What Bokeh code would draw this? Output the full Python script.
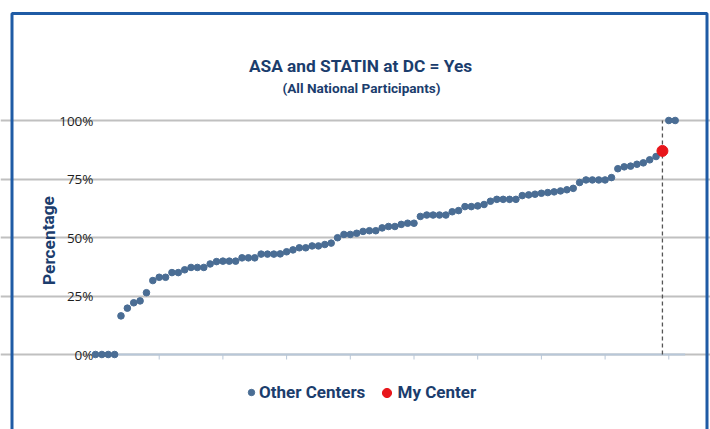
from bokeh.plotting import figure
from bokeh.models import (Label, BoxAnnotation, Legend, LegendItem, Grid,
                          FixedTicker, Range1d, ColumnDataSource)
from bokeh.core.properties import value
from bokeh.embed import file_html
from bokeh.resources import INLINE

# ---- data ----
center_pct = [0, 0, 0, 0, 16.5, 19.8, 22.1, 22.9, 26.4, 31.6,
              33.0, 33.0, 35.0, 35.0, 36.2, 37.2, 37.2, 37.2, 38.7, 39.7,
              39.9, 39.9, 39.9, 41.3, 41.3, 41.3, 42.9, 42.9, 42.9, 43.0,
              43.9, 44.7, 45.6, 45.6, 46.4, 46.4, 47.0, 47.6, 49.9, 51.3,
              51.3, 51.8, 52.6, 52.9, 52.9, 54.1, 54.7, 54.7, 55.6, 56.1,
              56.1, 59.0, 59.6, 59.6, 59.6, 59.6, 61.0, 61.5, 63.2, 63.2,
              63.5, 64.1, 65.5, 66.3, 66.3, 66.3, 66.3, 67.9, 68.2, 68.5,
              68.9, 69.2, 69.5, 69.9, 70.4, 71.0, 73.5, 74.6, 74.6, 74.6,
              74.6, 75.6, 79.4, 80.2, 80.5, 81.3, 81.9, 83.2, 84.6, 87.0,
              100.0, 100.0]
my_center_index = 89
y_ticks = [0, 25, 50, 75, 100]
y_tick_labels = ["0%", "25%", "50%", "75%", "100%"]
x_ticks = [10, 20, 30, 40, 50, 60, 70, 80, 90]

title_text = "ASA and STATIN at DC = Yes"
subtitle_text = "(All National Participants)"
y_label_text = "Percentage"
series_names = ["Other Centers", "My Center"]

# ---- styling / layout ----
W, H = 710, 429
NAVY = "#1b3d6d"
DOT = "#4a6d94"
RED = "#e8161b"
FRAME = "#1f5ba5"
AXIS = "#b8c7d8"
HEAD_FONT = "Roboto"
TICK_FONT = "Open Sans"

# pixel geometry of the data area (plot frame covers whole canvas)
X0_PX, PX_PER_X = 95.0, 6.37      # x of first rank, px per rank
Y0_PX, PX_PER_Y = 354.0, 2.34     # y of 0 %, px per percent
x_start = -X0_PX / PX_PER_X
x_end = (W - X0_PX) / PX_PER_X
y_start = -(H - Y0_PX) / PX_PER_Y
y_end = Y0_PX / PX_PER_Y

other_x = [i for i in range(len(center_pct)) if i != my_center_index]
other_y = [v for i, v in enumerate(center_pct) if i != my_center_index]
my_x = [my_center_index]
my_y = [center_pct[my_center_index]]

p = figure(width=W, height=H, output_backend="svg", toolbar_location=None,
           x_range=Range1d(x_start, x_end), y_range=Range1d(y_start, y_end),
           x_axis_location=None, y_axis_location=None,
           min_border=0, background_fill_color="white",
           border_fill_color="white", outline_line_color=None)
p.grid.visible = False

n = len(center_pct)
grid_lo = 0
grid_hi = n - 1 + 7 / PX_PER_X
axis_lo = -2 / PX_PER_X
axis_hi = n - 1 + 10 / PX_PER_X

# horizontal gridlines
p.add_layout(Grid(dimension=1, ticker=FixedTicker(ticks=y_ticks),
                  bounds=(grid_lo, grid_hi), grid_line_color="#c0c0c0",
                  grid_line_width=2))

# x axis line at 0 and its tick marks
p.segment(x0=[axis_lo], y0=[y_ticks[0]], x1=[axis_hi], y1=[y_ticks[0]],
          line_color=AXIS, line_width=2)
tick_len = 5 / PX_PER_Y
p.segment(x0=x_ticks, y0=[y_ticks[0]] * len(x_ticks), x1=x_ticks,
          y1=[y_ticks[0] - tick_len] * len(x_ticks), line_color=AXIS, line_width=1)

# y tick labels
p.text(x=[axis_lo] * len(y_ticks), y=y_ticks, text=y_tick_labels,
       text_align="right", text_baseline="middle", text_font=value(TICK_FONT),
       text_font_size="13.5px", text_color="#1e1e1e")

# my-center marker line
p.segment(x0=my_x, y0=[y_ticks[0]] * len(my_x), x1=my_x, y1=[y_ticks[-1]] * len(my_x),
          line_color="#555555", line_width=1.3, line_dash="4 3")

src_other = ColumnDataSource(dict(x=other_x, y=other_y))
r_other = p.scatter("x", "y", source=src_other, size=6.6, color=DOT)
src_my = ColumnDataSource(dict(x=my_x, y=my_y))
r_my = p.scatter("x", "y", source=src_my, size=11, color=RED)

common = dict(orientation="horizontal", padding=0, margin=0,
              border_line_color=None, background_fill_alpha=0,
              label_text_font=HEAD_FONT, label_text_font_style="bold",
              label_text_font_size="17px", label_text_color=NAVY)
# legend marker size = 0.4 * glyph box, so box sets the marker diameter
leg1 = Legend(items=[LegendItem(label=series_names[0], renderers=[r_other])],
              location=(243, H - 402), glyph_width=16, glyph_height=16,
              label_height=16, label_standoff=0, **common)
leg2 = Legend(items=[LegendItem(label=series_names[1], renderers=[r_my])],
              location=(374.5, H - 403.5), glyph_width=23, glyph_height=23,
              label_height=23, label_standoff=0, **common)
p.add_layout(leg1)
p.add_layout(leg2)

p.add_layout(Label(x=360, y=H - 65, x_units="screen", y_units="screen", text=title_text,
                   text_align="center", text_baseline="middle", text_font=HEAD_FONT,
                   text_font_style="bold", text_font_size="17.3px", text_color=NAVY))
p.add_layout(Label(x=361, y=H - 87, x_units="screen", y_units="screen", text=subtitle_text,
                   text_align="center", text_baseline="middle", text_font=HEAD_FONT,
                   text_font_style="bold", text_font_size="13.6px", text_color=NAVY))
p.add_layout(Label(x=48, y=H - 240, x_units="screen", y_units="screen", text=y_label_text,
                   angle=1.5708, text_align="center", text_baseline="middle",
                   text_font=HEAD_FONT, text_font_style="bold", text_font_size="17.3px",
                   text_color=NAVY))

p.add_layout(BoxAnnotation(left=11.5, right=706.5, top=H - 13, bottom=-20,
                           left_units="screen", right_units="screen",
                           top_units="screen", bottom_units="screen",
                           fill_color=None, line_color=FRAME, line_alpha=1.0,
                           line_width=3))

open("out.html", "w").write(file_html(p, INLINE))
